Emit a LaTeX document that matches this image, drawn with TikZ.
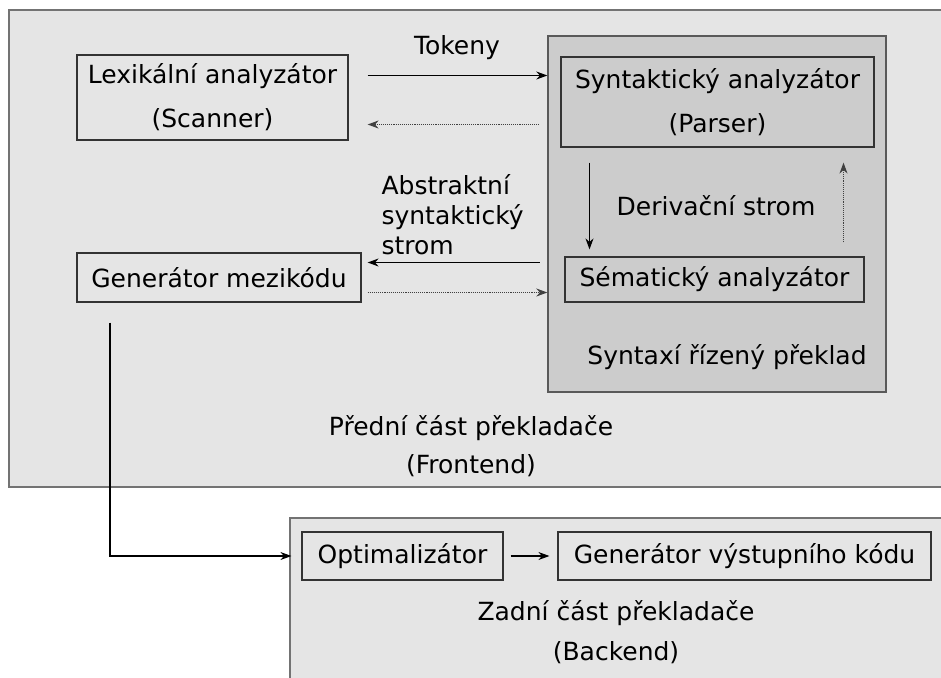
\documentclass[tikz,border=0pt]{standalone}
\usepackage{fontspec}
\setmainfont{DejaVu Sans}
\usetikzlibrary{arrows.meta}

\tikzset{
    area/.style={draw=black!55, fill=black!10, line width=1.6pt},
    region/.style={draw=black!65, fill=black!20, line width=1.4pt},
    unit/.style={draw=black!80, line width=1.2pt, inner sep=0pt, align=center,
        font=\fontsize{25}{44}\selectfont},
    txt/.style={align=center, font=\fontsize{25}{38}\selectfont},
    flow/.style={-{Stealth[length=11pt, width=8pt]}, line width=1.1pt},
    revflow/.style={{Stealth[length=11pt, width=8pt]}-, line width=1.1pt},
    dots/.style={densely dotted, draw=black!75}
}

\begin{document}
\begin{tikzpicture}[x=1pt, y=-1pt]
        \useasboundingbox (0,0) rectangle (941,677);
        \clip (0,0) rectangle (941,677);
        % Draw the two parts of the compiler
        \node[area, minimum width=951, minimum height=477] (frontend) at (484.5,248.5) {};
        \node[area, minimum width=670, minimum height=200] (backend) at (625,618) {};
        \node[region, minimum width=338, minimum height=356] (sdt) at (717,214) {};
        % Draw the units
        \node[unit, minimum width=271, minimum height=85] (lexer) at (212.5,97.5)
            {Lexikální analyzátor\\(Scanner)};
        \node[unit, fill=black!20, minimum width=313, minimum height=90] (parser) at (717.5,102)
            {Syntaktický analyzátor\\(Parser)};
        \node[unit, minimum width=299, minimum height=45] (semantic) at (714.5,279.5)
            {Sématický analyzátor};
        \node[unit, minimum width=284, minimum height=49] (irgen) at (219,277.5)
            {Generátor mezikódu};
        \node[unit, minimum width=201, minimum height=48] (optim) at (402.5,556)
            {Optimalizátor};
        \node[unit, minimum width=373, minimum height=48] (codegen) at (744.5,556)
            {Generátor výstupního kódu};
        % Add the captions
        \node[txt] (tokens) at (457,48) {Tokeny};
        \node[txt, anchor=west, align=left, font=\fontsize{25}{30}\selectfont] (ast) at (378,215)
            {Abstraktní\\syntaktický\\strom};
        \node[txt] (deriv) at (716,206) {Derivační strom};
        \node[txt] (sdtname) at (727,357) {Syntaxí řízený překlad};
        \node[txt] (frontname) at (471,446) {Přední část překladače\\(Frontend)};
        \node[txt, font=\fontsize{25}{40}\selectfont] (backname) at (616,632)
            {Zadní část překladače\\(Backend)};
        % Draw the connectors
        \draw[flow] ([shift={(19,-22)}]lexer.east) coordinate (t1) -- (t1 -| sdt.west);
        \draw[revflow, dots] ([shift={(19,27)}]lexer.east) coordinate (t2)
            -- ([shift={(-7,0)}]t2 -| sdt.west);
        \draw[flow] ([shift={(-128,15)}]parser.south) coordinate (d1)
            -- ([shift={(0,-7)}]d1 |- semantic.north);
        \draw[flow, dots] ([shift={(129,-14)}]semantic.north) coordinate (d2)
            -- ([shift={(0,15)}]d2 |- parser.south);
        \draw[revflow] ([shift={(6,-15)}]irgen.east) coordinate (a1)
            -- ([shift={(-7,0)}]a1 -| sdt.west);
        \draw[flow, dots] ([shift={(6,15)}]irgen.east) coordinate (a2) -- (a2 -| sdt.west);
        \draw[flow] ([shift={(-109,20)}]irgen.south) |- ([shift={(-10,0)}]optim.west);
        \draw[flow] ([shift={(7,0)}]optim.east) -- ([shift={(-8,0)}]codegen.west);
\end{tikzpicture}
\end{document}
